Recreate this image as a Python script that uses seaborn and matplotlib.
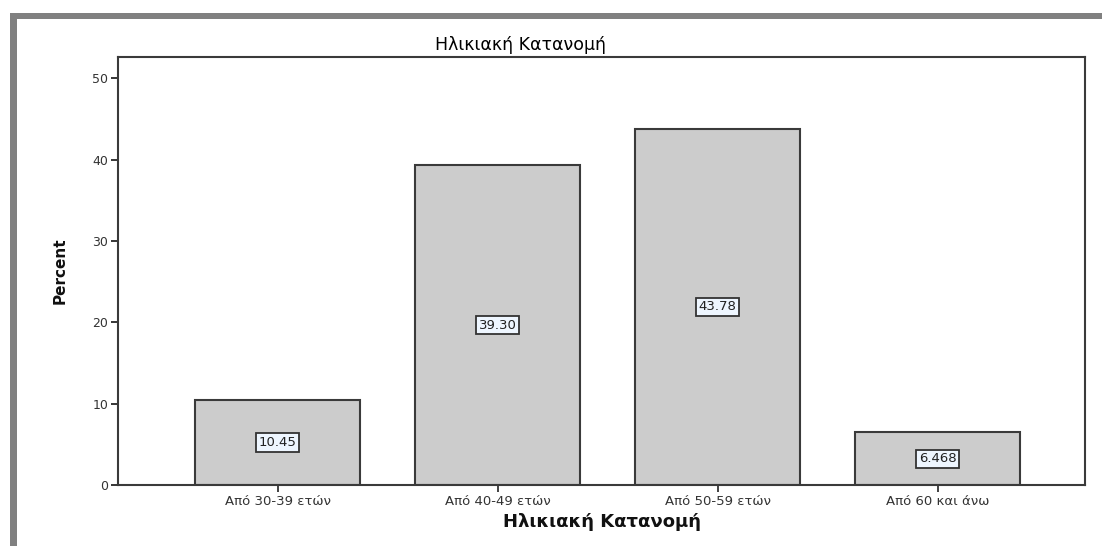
import matplotlib
matplotlib.use("Agg")
import matplotlib.pyplot as plt
from matplotlib.patches import Rectangle
import seaborn as sns
import pandas as pd

categories = ["Από 30-39 ετών", "Από 40-49 ετών", "Από 50-59 ετών", "Από 60 και άνω"]
percent = [10.45, 39.30, 43.78, 6.468]
value_labels = ["10.45", "39.30", "43.78", "6.468"]
yticks = [0, 10, 20, 30, 40, 50]
title = "Ηλικιακή Κατανομή"
xlabel = "Ηλικιακή Κατανομή"
ylabel = "Percent"

sns.set_style("white")
plt.rcParams["font.family"] = ["DejaVu Sans"]

df = pd.DataFrame({"group": categories, "pct": percent})

fig = plt.figure(figsize=(11.02, 5.46), dpi=100)
ax = fig.add_axes([0.1071, 0.1117, 0.8775, 0.7839])

sns.barplot(data=df, x="group", y="pct", ax=ax, color="#cccccc",
            edgecolor="#3a3a3a", linewidth=1.5, width=0.75, saturation=1)

ax.set_xlim(-0.727, 3.67)
ax.set_ylim(0, 52.6)
ax.set_yticks(yticks)
ax.set_yticklabels([str(t) for t in yticks], fontsize=9, color="#333333")
ax.tick_params(axis="x", labelsize=9.5, colors="#333333", length=5, width=1.3, direction="out", pad=2)
ax.tick_params(axis="y", length=5, width=1.3, direction="out", pad=2)
ax.tick_params(bottom=True, left=True)
for lab in ax.get_xticklabels():
    lab.set_color("#333333")

for s in ax.spines.values():
    s.set_color("#3a3a3a")
    s.set_linewidth(1.5)

ax.set_title(title, fontsize=12.5, color="#000000", pad=5, x=0.416)
ax.set_xlabel(xlabel, fontsize=13, fontweight="bold", color="#111111", labelpad=4)
ax.set_ylabel(ylabel, fontsize=11, fontweight="bold", color="#111111", labelpad=18,
              family=["Liberation Sans Narrow", "DejaVu Sans"])

for i, (v, lab) in enumerate(zip(percent, value_labels)):
    ax.text(i, v / 2, lab, ha="center", va="center", fontsize=9.5, color="#222222",
            bbox=dict(boxstyle="square,pad=0.2", facecolor="#eef6ff",
                      edgecolor="#333333", linewidth=1.3))

# grey frame along the top and left edges
fig.patches.append(Rectangle((10 / 1102, 0), 7 / 1102, 533 / 546, transform=fig.transFigure,
                             facecolor="#808080", edgecolor="none"))
fig.patches.append(Rectangle((10 / 1102, (546 - 19) / 546), 1 - 10 / 1102, 6 / 546,
                             transform=fig.transFigure, facecolor="#808080", edgecolor="none"))

fig.savefig("out.png", dpi=100)
